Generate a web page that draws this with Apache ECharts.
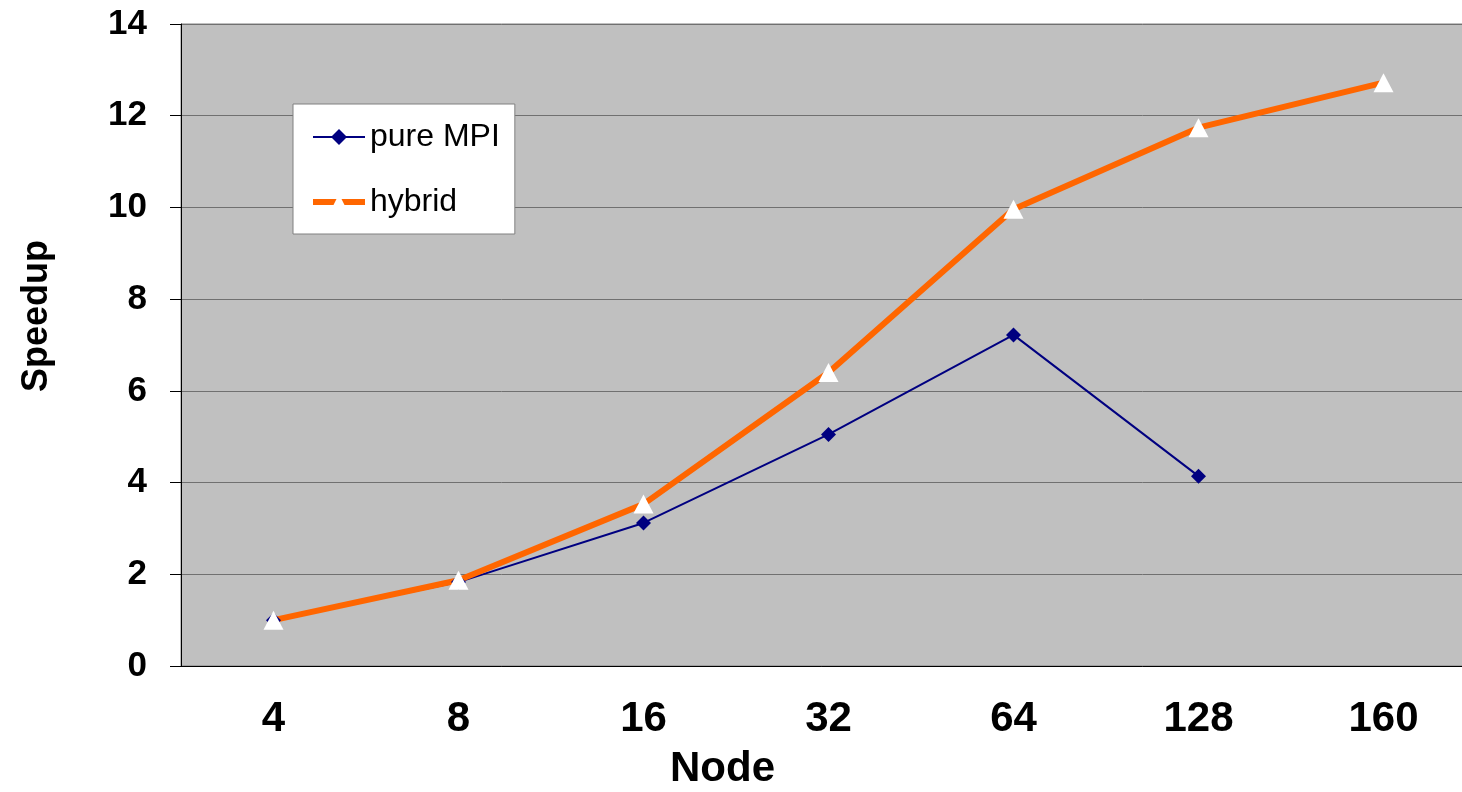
<!DOCTYPE html>
<html style="height: 100%">
<head>
    <meta charset="utf-8">
    <script src="https://cdn.jsdelivr.net/npm/echarts@6.0.0/dist/echarts.min.js"></script>
</head>
<body style="height: 100%; margin: 0; background: #fff">
<div id="container" style="width:1462px;height:792px"></div>
<script type="text/javascript">
// node counts on the x axis
var nodes = ['4', '8', '16', '32', '64', '128', '160'];
// speedup values
var pureMPI = [1.0, 1.83, 3.12, 5.05, 7.22, 4.14, null];
var hybrid = [1.0, 1.87, 3.53, 6.4, 9.96, 11.74, 12.72];

var font = "'Liberation Sans', Arial, sans-serif";

var myChart = echarts.init(document.getElementById('container'));

var option = {
    animation: false,
    grid: {
        left: 181,
        width: 1295,   // plot runs past the right edge of the picture
        top: 24,
        bottom: 126,
        outerBoundsMode: 'none',
        show: true,
        backgroundColor: '#c0c0c0',
        borderColor: '#808080',
        borderWidth: 1
    },
    legend: {
        data: [
            {name: 'pure MPI', lineStyle: {width: 2}},
            {name: 'hybrid', lineStyle: {width: 6}}
        ],
        orient: 'vertical',
        left: 293,
        top: 104,
        padding: [17, 15, 16, 17],
        itemWidth: 52,
        itemHeight: 20,
        itemGap: 33,
        backgroundColor: '#fff',
        borderColor: '#808080',
        borderWidth: 1,
        textStyle: {fontSize: 32, color: '#000', fontFamily: font}
    },
    xAxis: {
        type: 'category',
        data: nodes,
        name: 'Node',
        nameLocation: 'middle',
        nameGap: 82,
        // title sits left of the axis middle, like the original
        nameTextStyle: {fontSize: 42, fontWeight: 'bold', color: '#000', fontFamily: font, padding: [0, 212, 0, 0]},
        axisLine: {lineStyle: {color: '#000', width: 1}},
        axisTick: {length: 12, lineStyle: {color: '#808080'}},
        axisLabel: {margin: 32, fontSize: 42, fontWeight: 'bold', color: '#000', fontFamily: font}
    },
    yAxis: {
        type: 'value',
        min: 0,
        max: 14,
        interval: 2,
        name: 'Speedup',
        nameLocation: 'middle',
        nameGap: 126,
        nameTextStyle: {fontSize: 36, fontWeight: 'bold', color: '#000', fontFamily: font, padding: [0, 0, 0, 58]},
        axisLine: {show: true, lineStyle: {color: '#000', width: 1}},
        axisTick: {show: true, length: 11, lineStyle: {color: '#000'}},
        axisLabel: {margin: 34, fontSize: 35, fontWeight: 'bold', color: '#000', fontFamily: font},
        splitLine: {lineStyle: {color: '#707070', width: 1}}
    },
    series: [
        {
            name: 'pure MPI',
            type: 'line',
            data: pureMPI,
            symbol: 'diamond',
            symbolSize: 15,
            lineStyle: {color: '#000080', width: 2},
            itemStyle: {color: '#000080'}
        },
        {
            name: 'hybrid',
            type: 'line',
            data: hybrid,
            symbol: 'triangle',
            symbolSize: [20, 19],
            lineStyle: {color: '#ff6600', width: 6},
            itemStyle: {color: '#ffffff', borderWidth: 0}
        }
    ]
};

myChart.setOption(option);
</script>
</body>
</html>
